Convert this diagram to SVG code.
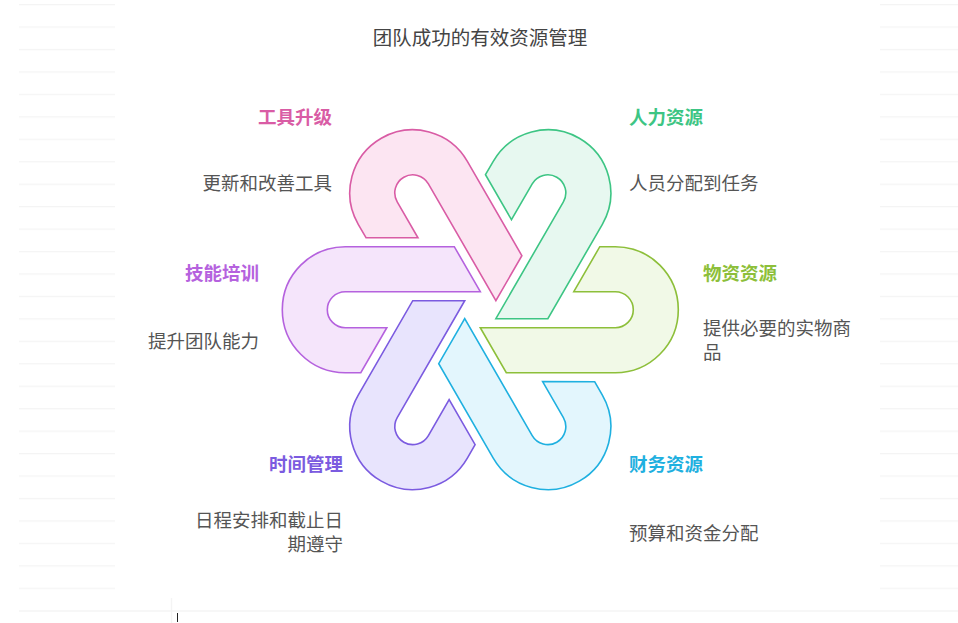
<svg xmlns="http://www.w3.org/2000/svg" xmlns:xlink="http://www.w3.org/1999/xlink" width="958" height="623" viewBox="0 0 958 623">
<style>
.bg{stroke:#f4f4f4;stroke-width:1.5}
.title{font-family:"Noto Sans CJK SC","Liberation Sans",sans-serif;font-size:19.5px;fill:#444;text-anchor:middle}
.lab{font-family:"Noto Sans CJK SC","Liberation Sans",sans-serif;font-size:18.5px;font-weight:bold}
.desc{font-family:"Noto Sans CJK SC","Liberation Sans",sans-serif;font-size:18.5px;fill:#555}
.r{text-anchor:end}
.piece{stroke-width:1.6;stroke-linejoin:miter}
</style>
<defs>
<path id="hook" d="M119.5,-63 L135,-63 A63,63 0 0 1 135,63 L26,63 L0,18 L135,18 A18,18 0 0 0 135,-18 L93.5,-18 Z"/>
<pattern id="lines" x="0" y="4" width="958" height="22.45" patternUnits="userSpaceOnUse">
<line x1="0" y1="0.5" x2="958" y2="0.5" class="bg"/>
</pattern>
</defs>
<rect width="958" height="623" fill="#fff"/>
<g id="background">
<rect x="19" y="3" width="96" height="590" fill="url(#lines)"/>
<rect x="880" y="3" width="78" height="590" fill="url(#lines)"/>
<line x1="19" y1="611" x2="958" y2="611" class="bg"/>
<line x1="171.5" y1="598" x2="171.5" y2="623" class="bg"/>
<line x1="177.5" y1="613" x2="177.5" y2="622" stroke="#222" stroke-width="1"/>
</g>
<text class="title" x="480" y="45">团队成功的有效资源管理</text>
<g id="connectors"></g>
<g id="material">
<use xlink:href="#hook" class="piece" transform="translate(480.3,309.7) rotate(0)" fill="#F1F9E7" stroke="#8DBF3A"/>
<text class="lab" x="703" y="280" fill="#8DBF3A">物资资源</text>
<text class="desc" x="703" y="335">提供必要的实物商</text>
<text class="desc" x="703" y="359">品</text>
</g>
<g id="finance">
<use xlink:href="#hook" class="piece" transform="translate(480.3,309.7) rotate(60)" fill="#E3F6FD" stroke="#1FB0E0"/>
<text class="lab" x="629" y="471" fill="#1FB0E0">财务资源</text>
<text class="desc" x="629" y="540">预算和资金分配</text>
</g>
<g id="time">
<use xlink:href="#hook" class="piece" transform="translate(480.3,309.7) rotate(120)" fill="#E8E4FD" stroke="#7B5BE0"/>
<text class="lab r" x="343" y="471" fill="#7B5BE0">时间管理</text>
<text class="desc r" x="343" y="527">日程安排和截止日</text>
<text class="desc r" x="343" y="551">期遵守</text>
</g>
<g id="skills">
<use xlink:href="#hook" class="piece" transform="translate(480.3,309.7) rotate(180)" fill="#F5E5FB" stroke="#B562DE"/>
<text class="lab r" x="259" y="280" fill="#B562DE">技能培训</text>
<text class="desc r" x="259" y="348">提升团队能力</text>
</g>
<g id="tools">
<use xlink:href="#hook" class="piece" transform="translate(480.3,309.7) rotate(240)" fill="#FCE5F2" stroke="#D95CA5"/>
<text class="lab r" x="332" y="124" fill="#D95CA5">工具升级</text>
<text class="desc r" x="332" y="190">更新和改善工具</text>
</g>
<g id="human">
<use xlink:href="#hook" class="piece" transform="translate(480.3,309.7) rotate(300)" fill="#E7F8F0" stroke="#3DC584"/>
<text class="lab" x="629" y="124" fill="#3DC584">人力资源</text>
<text class="desc" x="629" y="190">人员分配到任务</text>
</g>
</svg>
